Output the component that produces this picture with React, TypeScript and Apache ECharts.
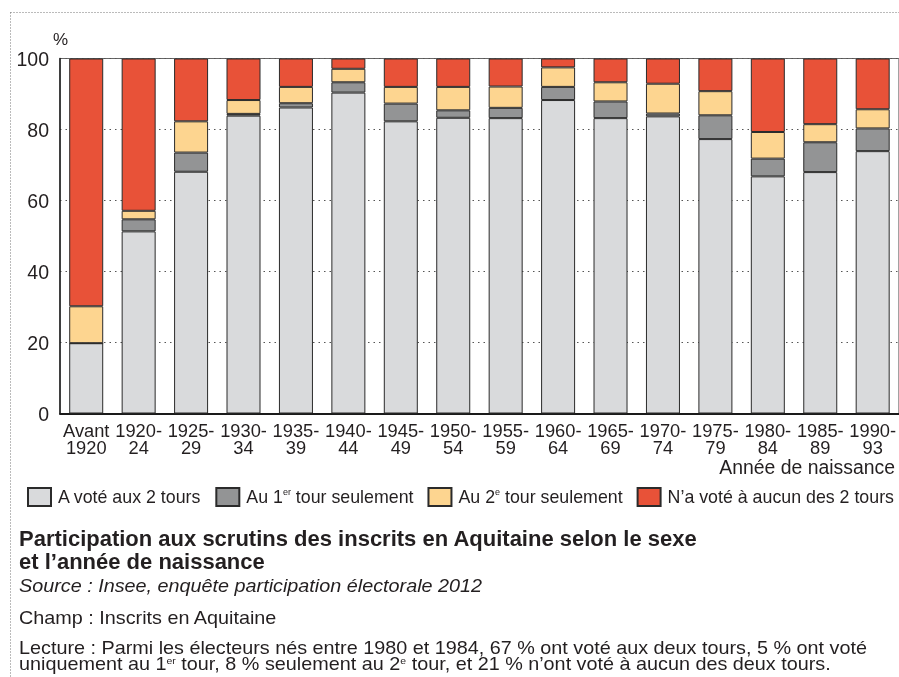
import React, { useEffect, useRef } from "react";
import * as echarts from "echarts";

const categories = [
  "Avant\n1920", "1920-\n24", "1925-\n29", "1930-\n34", "1935-\n39", "1940-\n44",
  "1945-\n49", "1950-\n54", "1955-\n59", "1960-\n64", "1965-\n69", "1970-\n74",
  "1975-\n79", "1980-\n84", "1985-\n89", "1990-\n93",
];
const seriesNames = [
  "A voté aux 2 tours",
  "Au 1er tour seulement",
  "Au 2e tour seulement",
  "N’a voté à aucun des 2 tours",
];
const votedBoth = [19.8, 51.3, 68.1, 83.9, 86.2, 90.4, 82.3, 83.3, 83.2, 88.3, 83.2, 83.7, 77.3, 66.8, 68.0, 73.9];
const firstOnly = [0, 3.4, 5.4, 0.5, 1.2, 2.9, 5.0, 2.1, 2.9, 3.7, 4.7, 0.8, 6.7, 5.0, 8.4, 6.4];
const secondOnly = [10.4, 2.4, 8.8, 3.9, 4.6, 3.8, 4.7, 6.6, 6.0, 5.5, 5.4, 8.4, 6.8, 7.5, 5.1, 5.4];
const noVote = [69.8, 42.9, 17.7, 11.7, 8.0, 2.9, 8.0, 8.0, 7.9, 2.5, 6.7, 7.1, 9.2, 20.7, 18.5, 14.3];
const yTicks = [0, 20, 40, 60, 80, 100];
const colors = ["#d9dadc", "#939495", "#fdd590", "#e85238"];

const FONT = "'Liberation Sans', Arial, Helvetica, sans-serif";
const TXT = "#231f20";

export default function App() {
  const ref = useRef<HTMLDivElement>(null);
  useEffect(() => {
    document.body.style.margin = "0";
    const chart = echarts.init(ref.current!, null, { renderer: "svg" });
    const values = [votedBoth, firstOnly, secondOnly, noVote];
    const legendRich = {
      f: { fontSize: 17.8, fontFamily: FONT, color: TXT, lineHeight: 20, padding: [0, 0, 0, 2] },
      n: { fontSize: 17.8, fontFamily: FONT, color: TXT, lineHeight: 20 },
      s: { fontSize: 9, fontFamily: FONT, color: TXT, lineHeight: 9, verticalAlign: "top" },
    };
    const bodyRich = {
      n: { fontSize: 18, fontFamily: FONT, color: TXT, lineHeight: 17 },
      s: { fontSize: 9.5, fontFamily: FONT, color: TXT, lineHeight: 9, verticalAlign: "top" },
    };
    chart.setOption({
      animation: false,
      grid: {
        left: 60,
        right: -2,
        top: 58.5,
        bottom: 263.5,
        show: true,
        borderColor: "#666",
        borderWidth: 1,
        backgroundColor: "transparent",
      },
      legend: {
        left: 27,
        top: 487,
        width: 890,
        padding: 0,
        itemWidth: 23,
        itemHeight: 18,
        itemGap: 14,
        icon: "rect",
        data: seriesNames,
        formatter: (name: string) => {
          if (name === seriesNames[1]) return "{f|Au 1}{s|er}{n| tour seulement}";
          if (name === seriesNames[2]) return "{f|Au 2}{s|e}{n| tour seulement}";
          return "{f|" + name + "}";
        },
        textStyle: { fontSize: 17.8, fontFamily: FONT, color: TXT, rich: legendRich },
      },
      xAxis: {
        type: "category",
        data: categories,
        axisTick: { show: false },
        axisLine: { lineStyle: { color: "#1a1a1a", width: 2 } },
        axisLabel: {
          interval: 0,
          margin: 8,
          fontSize: 18.3,
          lineHeight: 17,
          fontFamily: FONT,
          color: TXT,
        },
      },
      yAxis: {
        type: "value",
        min: yTicks[0],
        max: yTicks[yTicks.length - 1],
        interval: 20,
        axisLine: { show: true, lineStyle: { color: "#1a1a1a", width: 1.5 } },
        axisTick: { show: false },
        axisLabel: { margin: 11, fontSize: 19.5, fontFamily: FONT, color: TXT },
        splitLine: { show: true, lineStyle: { color: "#555", type: [1.5, 4], width: 1 } },
      },
      series: seriesNames.map((name, i) => ({
        type: "bar",
        name,
        stack: "total",
        data: values[i],
        barWidth: 34,
        itemStyle: { color: colors[i], borderColor: "#2b2b2b", borderWidth: 1 },
      })),
      graphic: [
        { type: "line", shape: { x1: 10.5, y1: 12.5, x2: 899, y2: 12.5 }, style: { stroke: "#777", lineWidth: 1, lineDash: [1, 2] }, silent: true },
        { type: "line", shape: { x1: 10.5, y1: 12.5, x2: 10.5, y2: 677 }, style: { stroke: "#777", lineWidth: 1, lineDash: [1, 2] }, silent: true },
        { type: "text", x: 53, y: 39, style: { text: "%", fontSize: 17, fontFamily: FONT, fill: TXT, verticalAlign: "middle" } },
        { type: "text", x: 895, y: 467, style: { text: "Année de naissance", fontSize: 19.4, fontFamily: FONT, fill: TXT, align: "right", verticalAlign: "middle" } },
        { type: "text", x: 19, y: 538, style: { text: "Participation aux scrutins des inscrits en Aquitaine selon le sexe", fontSize: 22, fontWeight: "bold", fontFamily: FONT, fill: TXT, verticalAlign: "middle" } },
        { type: "text", x: 19, y: 561, style: { text: "et l’année de naissance", fontSize: 22, fontWeight: "bold", fontFamily: FONT, fill: TXT, verticalAlign: "middle" } },
        { type: "text", x: 19, y: 586, scaleX: 1.1, style: { text: "Source : Insee, enquête participation électorale 2012", fontSize: 18, fontStyle: "italic", fontFamily: FONT, fill: TXT, verticalAlign: "middle" } },
        { type: "text", x: 19, y: 618, scaleX: 1.1, style: { text: "Champ : Inscrits en Aquitaine", fontSize: 18, fontFamily: FONT, fill: TXT, verticalAlign: "middle" } },
        { type: "text", x: 19, y: 647.5, scaleX: 1.1, style: { text: "Lecture : Parmi les électeurs nés entre 1980 et 1984, 67 % ont voté aux deux tours, 5 % ont voté", fontSize: 18, fontFamily: FONT, fill: TXT, verticalAlign: "middle", lineHeight: 16 } },
        { type: "text", x: 19, y: 664, scaleX: 1.1, style: { text: "{n|uniquement au 1}{s|er}{n| tour, 8 % seulement au 2}{s|e}{n| tour, et 21 % n’ont voté à aucun des deux tours.}", rich: bodyRich, fill: TXT, verticalAlign: "middle" } },
      ],
    });
    return () => chart.dispose();
  }, []);
  return <div ref={ref} style={{ position: "fixed", left: 0, top: 0, width: 899, height: 677 }} />;
}
